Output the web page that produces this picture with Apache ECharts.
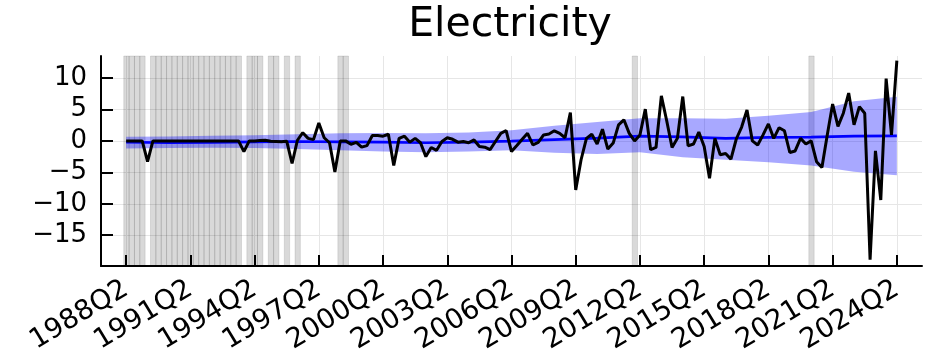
<!DOCTYPE html>
<html>
<head>
<meta charset="utf-8">
<script src="https://cdn.jsdelivr.net/npm/echarts@6/dist/echarts.min.js"></script>
<style>
  html, body { margin: 0; padding: 0; background: #fff; }
  #chart { width: 949px; height: 356px; }
</style>
</head>
<body>
<div id="chart"></div>
<script>
// quarterly values, index 0 = 1988Q2 ... index 144 = 2024Q2
const values = [
  0, 0, 0, 0, -3.3,
  0, 0, 0, 0, 0, 0, 0, 0, 0, 0, 0, 0, 0, 0, 0, 0, 0,
  -1.7, 0, 0, 0.05, 0.1, -0.05, -0.1, -0.15, -0.05,
  -3.6, 0.1, 1.3, 0.4, 0.2, 2.85, 0.5, -0.3, -4.95, 0,
  0, -0.55, -0.25, -1.0, -0.75, 0.85, 0.85, 0.75, 1.05, -3.9,
  0.4, 0.75, -0.2, 0.4, -0.3, -2.5, -1.05, -1.5, -0.1, 0.5,
  0.25, -0.2, -0.1, -0.3, 0.15, -0.9, -1.0, -1.4, -0.1, 1.2,
  1.65, -1.7, -0.75, 0.25, 1.2, -0.65, -0.25, 0.95, 1.1, 1.6,
  1.2, 0.5, 4.5, -7.8, -3.0, 0.4, 1.05, -0.5, 1.85, -1.3,
  -0.35, 2.55, 3.35, 1.2, 0, 0.95, 5.05, -1.4, -1.05, 7.15,
  3.2, -1.05, 0.4, 7.05, -0.8, -0.5, 1.4, -0.9, -5.95, 0.4,
  -2.2, -2.0, -2.9, 0.3, 2.2, 4.9, 0, -0.65, 0.95, 2.7,
  0.4, 2.1, 1.6, -1.85, -1.6, 0.4, -0.5, 0, -3.3, -4.25,
  0.95, 5.85, 2.3, 4.4, 7.6, 2.55, 5.45, 4.4, -18.9, -1.6,
  -9.4, 9.9, 0.95, 12.75
];

// fitted trend and its band, read at every 8th quarter
const bandIdx   = [0, 8, 16, 24, 32, 40, 48, 56, 64, 72, 80, 88, 96, 104, 112, 120, 128, 136, 144];
const trend     = [-0.2, -0.3, -0.25, -0.15, -0.1, -0.15, -0.2, -0.3, -0.2, -0.05, 0.2, 0.45, 0.75, 0.65, 0.4, 0.55, 0.6, 0.75, 0.8];
const bandUpper = [0.65, 0.7, 0.8, 0.9, 1.05, 1.2, 1.25, 1.2, 1.35, 1.7, 2.4, 3.0, 3.6, 3.6, 3.5, 4.0, 4.6, 6.3, 7.0];
const bandLower = [-1.2, -1.15, -1.1, -1.15, -1.3, -1.5, -1.7, -1.8, -1.7, -1.5, -1.9, -2.1, -1.8, -2.6, -3.0, -3.4, -3.9, -4.9, -5.45];

// shaded quarters (indices)
const shaded = [0, 1, 2, 3, 5, 6, 7, 8, 9, 10, 11, 12, 13, 14, 15, 16, 17, 18, 19, 20, 21,
  23, 24, 25, 27, 28, 30, 32, 40, 41, 95, 128];

const xTickIdx = [0, 12, 24, 36, 48, 60, 72, 84, 96, 108, 120, 132, 144];
const xTickLabels = ['1988Q2', '1991Q2', '1994Q2', '1997Q2', '2000Q2', '2003Q2', '2006Q2',
  '2009Q2', '2012Q2', '2015Q2', '2018Q2', '2021Q2', '2024Q2'];
const yTicks = [-15, -10, -5, 0, 5, 10];

const FONT = 'DejaVu Sans';

const lineData = values.map((v, i) => [i, v]);
const trendData = bandIdx.map((x, k) => [x, trend[k]]);
const bandData = bandIdx.map((x, k) => [x, bandLower[k], bandUpper[k]]);
const shadeAreas = shaded.map(i => [{ xAxis: i - 0.45 }, { xAxis: i + 0.55 }]);

// whole band drawn as one polygon (on the first item)
function renderBand(params, api) {
  if (params.dataIndex !== 0) return;
  const top = bandData.map(d => api.coord([d[0], d[2]]));
  const bot = bandData.map(d => api.coord([d[0], d[1]])).reverse();
  return {
    type: 'polygon',
    shape: { points: top.concat(bot) },
    style: { fill: 'rgba(0,0,255,0.34)' }
  };
}

const chart = echarts.init(document.getElementById('chart'), null, { renderer: 'canvas' });
chart.setOption({
  animation: false,
  backgroundColor: '#fff',
  title: {
    text: 'Electricity',
    left: 505,
    top: 0,
    textAlign: 'center',
    textStyle: { fontFamily: FONT, fontSize: 41, fontWeight: 'normal', color: '#000' }
  },
  grid: { left: 101, right: 27, top: 56, bottom: 90, outerBoundsMode: 'none' },
  xAxis: {
    type: 'value',
    min: -4.7,
    max: 148.7,
    axisLine: { onZero: false, lineStyle: { color: '#000', width: 2 } },
    axisTick: { inside: true, length: 11, lineStyle: { color: '#000', width: 2 }, customValues: xTickIdx },
    axisLabel: {
      customValues: xTickIdx,
      rotate: 31,
      margin: 21,
      fontFamily: FONT,
      fontSize: 27.5,
      color: '#000',
      formatter: v => xTickLabels[xTickIdx.indexOf(v)]
    },
    splitLine: { show: true, lineStyle: { color: '#e6e6e6', width: 1 } }
  },
  yAxis: {
    type: 'value',
    min: -19.9,
    max: 13.5,
    axisLine: { show: true, onZero: false, lineStyle: { color: '#000', width: 2 } },
    axisTick: { show: true, inside: true, length: 12, lineStyle: { color: '#000', width: 2 }, customValues: yTicks },
    axisLabel: {
      customValues: yTicks,
      margin: 14,
      fontFamily: FONT,
      fontSize: 26,
      color: '#000',
      formatter: v => String(v).replace('-', '\u2212')
    },
    splitLine: { show: true, lineStyle: { color: '#e6e6e6', width: 1 } }
  },
  series: [
    {
      type: 'line',
      data: [],
      z: 1,
      markArea: {
        silent: true,
        itemStyle: { color: 'rgba(0,0,0,0.15)', borderColor: 'rgba(0,0,0,0.1)', borderWidth: 1 },
        data: shadeAreas
      }
    },
    {
      type: 'custom',
      data: bandData,
      encode: { x: 0, y: [1, 2] },
      renderItem: renderBand,
      silent: true,
      z: 2
    },
    {
      type: 'line',
      data: trendData,
      symbol: 'none',
      lineStyle: { color: '#0000ff', width: 2.7 },
      z: 3
    },
    {
      type: 'line',
      data: lineData,
      symbol: 'none',
      lineStyle: { color: '#000', width: 3 },
      z: 4
    }
  ]
});
</script>
</body>
</html>
